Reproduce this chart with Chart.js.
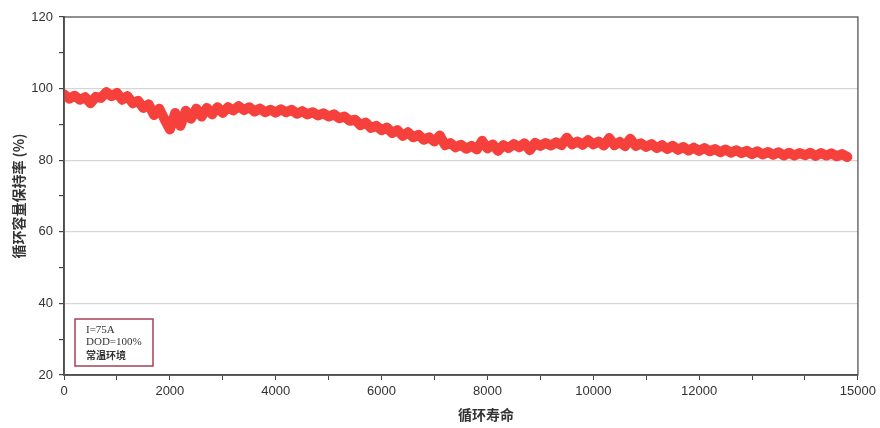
<!DOCTYPE html>
<html>
<head>
<meta charset="utf-8">
<script src="https://cdn.jsdelivr.net/npm/chart.js@4.4.1/dist/chart.umd.min.js"></script>
<style>
  html, body { margin: 0; padding: 0; background: #fff; }
  #wrap { width: 880px; height: 428px; }
</style>
</head>
<body>
<div id="wrap"><canvas id="chart" width="880" height="428"></canvas></div>
<script>
// cycle count (x) and capacity retention % (y), every 100 cycles
const cycles = [
  0, 100, 200, 300, 400, 500, 600, 700, 800, 900,
  1000, 1100, 1200, 1300, 1400, 1500, 1600, 1700, 1800, 1900,
  2000, 2100, 2200, 2300, 2400, 2500, 2600, 2700, 2800, 2900,
  3000, 3100, 3200, 3300, 3400, 3500, 3600, 3700, 3800, 3900,
  4000, 4100, 4200, 4300, 4400, 4500, 4600, 4700, 4800, 4900,
  5000, 5100, 5200, 5300, 5400, 5500, 5600, 5700, 5800, 5900,
  6000, 6100, 6200, 6300, 6400, 6500, 6600, 6700, 6800, 6900,
  7000, 7100, 7200, 7300, 7400, 7500, 7600, 7700, 7800, 7900,
  8000, 8100, 8200, 8300, 8400, 8500, 8600, 8700, 8800, 8900,
  9000, 9100, 9200, 9300, 9400, 9500, 9600, 9700, 9800, 9900,
  10000, 10100, 10200, 10300, 10400, 10500, 10600, 10700, 10800, 10900,
  11000, 11100, 11200, 11300, 11400, 11500, 11600, 11700, 11800, 11900,
  12000, 12100, 12200, 12300, 12400, 12500, 12600, 12700, 12800, 12900,
  13000, 13100, 13200, 13300, 13400, 13500, 13600, 13700, 13800, 13900,
  14000, 14100, 14200, 14300, 14400, 14500, 14600, 14700, 14800
];
const retention = [
  98.4, 97.2, 98.0, 96.9, 97.6, 95.9, 97.7, 97.4, 99.0, 97.9,
  98.8, 96.9, 97.9, 95.9, 96.6, 94.6, 95.6, 92.6, 94.4, 91.4,
  88.6, 93.2, 89.6, 93.8, 91.6, 94.4, 92.2, 94.6, 92.8, 94.8,
  93.2, 94.8, 93.9, 95.1, 94.0, 94.8, 93.6, 94.4, 93.4, 94.1,
  93.3, 94.2, 93.4, 94.1, 93.0, 93.7, 92.8, 93.4, 92.5, 93.1,
  92.2, 92.8, 91.7, 92.2, 91.0, 91.3, 89.8, 90.5, 89.0, 89.6,
  88.4, 89.1, 87.6, 88.4, 86.8, 87.8, 86.4, 87.1, 85.7, 86.4,
  85.2, 86.9, 84.2, 84.8, 83.6, 84.3, 83.2, 84.0, 83.0, 85.4,
  83.3, 84.4, 82.6, 84.2, 83.4, 84.5, 83.6, 84.7, 82.8, 84.8,
  84.0, 84.8, 84.1, 85.0, 84.2, 86.3, 84.4, 85.2, 84.3, 85.6,
  84.4, 85.2, 84.1, 86.2, 84.2, 85.1, 83.9, 86.0, 84.0, 84.7,
  83.7, 84.5, 83.4, 84.2, 83.1, 84.0, 82.9, 83.7, 82.7, 83.5,
  82.6, 83.4, 82.5, 83.1, 82.2, 83.0, 82.1, 82.8, 82.0, 82.6,
  81.7, 82.5, 81.6, 82.3, 81.5, 82.2, 81.3, 82.1, 81.3, 82.0,
  81.4, 82.1, 81.2, 82.0, 81.3, 81.9, 81.1, 81.7, 80.9
];
const xLabels = [0, 2000, 4000, 6000, 8000, 10000, 12000, 15000];
const yLabels = [20, 40, 60, 80, 100, 120];
const noteLines = ["I=75A", "DOD=100%", "常温环境"];
const xTitle = "循环寿命";
const yTitle = "循环容量保持率 (%)";

const axisColor = "#444";
const tickFont = { family: "'Liberation Sans', Arial, sans-serif", size: 13 };

const framePlugin = {
  id: "frame",
  afterDraw(chart) {
    const { ctx, chartArea: a } = chart;
    ctx.save();
    ctx.strokeStyle = "#555";
    ctx.lineWidth = 1.3;
    ctx.strokeRect(a.left, a.top, a.right - a.left, a.bottom - a.top);

    // note box in lower left corner
    const bx = a.left + 11, by = a.bottom - 56, bw = 78, bh = 47;
    ctx.strokeStyle = "#a8405a";
    ctx.lineWidth = 1.5;
    ctx.strokeRect(bx, by, bw, bh);
    ctx.fillStyle = "#333";
    ctx.textBaseline = "middle";
    ctx.textAlign = "left";
    ctx.font = "11px 'Liberation Serif', serif";
    noteLines.forEach((line, i) => {
      if (i === 2) ctx.font = "bold 10px 'Noto Sans CJK SC', sans-serif";
      ctx.fillText(line, bx + 11, by + 11 + i * 12.5);
    });

    // x axis title
    ctx.font = "bold 14px 'Noto Sans CJK SC', sans-serif";
    ctx.textAlign = "center";
    ctx.fillStyle = "#333";
    ctx.fillText(xTitle, 486, 415);
    ctx.restore();
  }
};

new Chart(document.getElementById("chart"), {
  type: "line",
  data: {
    datasets: [
      {
        label: "容量保持率",
        data: cycles.map((c, i) => ({ x: c, y: retention[i] })),
        borderColor: "#f5403c",
        borderWidth: 10,
        pointRadius: 0,
        tension: 0,
        borderJoinStyle: "round",
        borderCapStyle: "round"
      }
    ]
  },
  plugins: [framePlugin],
  options: {
    responsive: false,
    animation: false,
    layout: { padding: { top: 17, right: 21, left: 0, bottom: 0 } },
    plugins: {
      legend: { display: false },
      tooltip: { enabled: false }
    },
    scales: {
      x: {
        type: "linear",
        min: 0,
        max: 15000,
        afterFit: (scale) => { scale.height = 53; },
        afterBuildTicks: (scale) => {
          const t = [];
          for (let v = 0; v <= 15000; v += 1000) t.push({ value: v });
          scale.ticks = t;
        },
        ticks: {
          autoSkip: false,
          maxRotation: 0,
          padding: 4,
          color: "#333",
          font: tickFont,
          callback: (v) => (xLabels.includes(v) ? String(v) : "")
        },
        grid: {
          color: "rgba(0,0,0,0)",
          tickColor: axisColor,
          tickLength: 5
        },
        border: { color: axisColor, width: 1.8 }
      },
      y: {
        min: 20,
        max: 120,
        afterFit: (scale) => { scale.width = 64; },
        ticks: {
          stepSize: 10,
          padding: 6,
          color: "#333",
          font: tickFont,
          callback: (v) => (yLabels.includes(v) ? String(v) : "")
        },
        grid: {
          color: (ctx) => {
            const v = ctx.tick && ctx.tick.value;
            return yLabels.includes(v) && v !== 20 && v !== 120 ? "#d6d6d6" : "rgba(0,0,0,0)";
          },
          lineWidth: 1.2,
          tickColor: axisColor,
          tickLength: 5
        },
        border: { color: axisColor, width: 1.8 },
        title: {
          display: true,
          text: yTitle,
          color: "#333",
          font: { family: "'Noto Sans CJK SC', sans-serif", size: 14, weight: "bold" },
          padding: { top: 10, bottom: 0 }
        }
      }
    }
  }
});
</script>
</body>
</html>
